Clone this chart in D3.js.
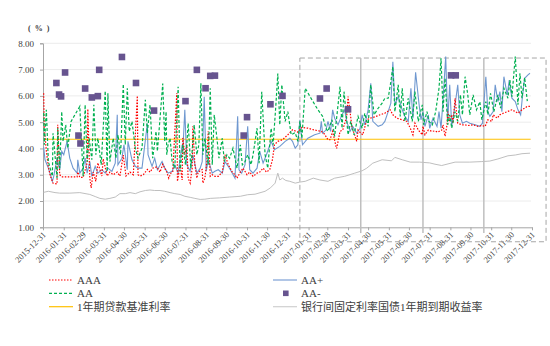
<!DOCTYPE html>
<html><head><meta charset="utf-8">
<script src="https://cdn.jsdelivr.net/npm/d3@7"></script>
<style>body{margin:0;background:#fff}svg{display:block}</style>
</head><body><svg id="c" width="550" height="346"></svg>
<script>
const tickLabels = ["2015-12-31","2016-01-31","2016-02-29","2016-03-31","2016-04-30","2016-05-31","2016-06-30","2016-07-31","2016-08-31","2016-09-30","2016-10-31","2016-11-30","2016-12-31","2017-01-31","2017-02-28","2017-03-31","2017-04-30","2017-05-31","2017-06-30","2017-07-31","2017-08-31","2017-09-30","2017-10-31","2017-11-30","2017-12-31"];
const yTicks = [1,2,3,4,5,6,7,8];
const seriesNames = ["AAA","AA+","AA","AA-","1年期贷款基准利率","银行间固定利率国债1年期到期收益率"];

const aaa = [["2016-01-01",6.1],["2016-01-02",4.77],["2016-01-05",3.9],["2016-01-08",3.3],["2016-01-11",2.95],["2016-01-15",2.68],["2016-01-21",2.65],["2016-01-22",4.9],["2016-01-25",3.0],["2016-01-28",2.92],["2016-02-20",2.92],["2016-02-21",3.1],["2016-02-24",2.9],["2016-02-29",2.9],["2016-03-06",3.45],["2016-03-07",5.5],["2016-03-10",2.87],["2016-03-12",2.5],["2016-03-15",3.1],["2016-03-19",2.75],["2016-03-22",3.45],["2016-03-28",2.95],["2016-03-30",3.6],["2016-04-05",2.95],["2016-04-09",3.1],["2016-04-14",3.0],["2016-04-20",3.1],["2016-04-24",2.95],["2016-04-29",3.75],["2016-05-03",2.95],["2016-05-09",3.1],["2016-05-14",3.0],["2016-05-20",6.0],["2016-05-21",3.0],["2016-05-24",2.95],["2016-05-29",3.0],["2016-06-04",3.2],["2016-06-08",3.1],["2016-06-12",3.25],["2016-06-18",3.3],["2016-06-23",3.1],["2016-06-27",3.4],["2016-06-30",3.25],["2016-07-03",3.1],["2016-07-06",2.87],["2016-07-09",3.06],["2016-07-12",3.1],["2016-07-18",6.1],["2016-07-19",2.75],["2016-07-23",3.38],["2016-07-26",2.8],["2016-07-27",4.4],["2016-07-30",3.76],["2016-08-02",4.14],["2016-08-04",2.87],["2016-08-07",2.68],["2016-08-10",3.25],["2016-08-11",4.84],["2016-08-14",3.38],["2016-08-17",2.87],["2016-08-19",3.1],["2016-08-25",3.2],["2016-08-26",2.68],["2016-08-29",2.87],["2016-09-01",3.5],["2016-09-03",4.65],["2016-09-06",2.94],["2016-09-09",3.0],["2016-09-13",2.94],["2016-09-18",2.94],["2016-09-24",3.1],["2016-09-28",3.76],["2016-10-03",3.38],["2016-10-09",3.1],["2016-10-13",3.0],["2016-10-16",2.87],["2016-10-21",3.1],["2016-10-25",3.25],["2016-10-31",3.0],["2016-11-04",3.1],["2016-11-09",2.94],["2016-11-15",3.06],["2016-11-19",3.1],["2016-11-24",3.25],["2016-11-29",3.1],["2016-12-04",3.2],["2016-12-08",3.57],["2016-12-11",4.14],["2016-12-16",4.27],["2016-12-23",4.33],["2016-12-31",4.52],["2017-01-07",4.71],["2017-01-15",4.62],["2017-01-21",4.8],["2017-01-30",4.77],["2017-02-09",4.7],["2017-02-19",4.65],["2017-02-24",4.54],["2017-03-01",4.33],["2017-03-04",4.33],["2017-03-08",4.65],["2017-03-13",4.08],["2017-03-14",4.0],["2017-03-19",4.65],["2017-03-23",4.7],["2017-03-29",5.2],["2017-03-31",5.97],["2017-04-03",5.4],["2017-04-06",4.77],["2017-04-09",4.58],["2017-04-13",4.27],["2017-04-15",4.7],["2017-04-19",4.58],["2017-04-22",4.52],["2017-04-28",5.09],["2017-05-03",5.15],["2017-05-10",5.2],["2017-05-18",5.28],["2017-05-25",5.34],["2017-06-02",5.47],["2017-06-06",5.28],["2017-06-12",5.15],["2017-06-20",5.09],["2017-06-27",5.03],["2017-07-02",4.77],["2017-07-06",4.52],["2017-07-09",4.96],["2017-07-14",4.7],["2017-07-20",4.52],["2017-07-21",4.84],["2017-07-24",4.52],["2017-07-29",4.7],["2017-08-04",4.65],["2017-08-08",4.67],["2017-08-12",4.62],["2017-08-18",4.7],["2017-08-20",4.9],["2017-08-23",4.46],["2017-08-26",4.9],["2017-08-27",5.4],["2017-08-30",5.03],["2017-09-02",5.28],["2017-09-04",4.96],["2017-09-07",5.91],["2017-09-10",5.15],["2017-09-11",4.96],["2017-09-17",4.9],["2017-09-22",4.9],["2017-09-26",4.87],["2017-10-04",4.9],["2017-10-11",4.84],["2017-10-17",4.87],["2017-10-22",4.84],["2017-10-26",5.09],["2017-11-01",5.03],["2017-11-03",5.28],["2017-11-09",5.15],["2017-11-13",5.28],["2017-11-18",5.34],["2017-11-24",5.4],["2017-12-01",5.47],["2017-12-06",5.4],["2017-12-10",5.34],["2017-12-16",5.47],["2017-12-24",5.6],["2017-12-28",5.6]];

const aaPlus = [["2016-01-01",4.05],["2016-01-03",3.57],["2016-01-08",3.25],["2016-01-14",2.75],["2016-01-16",2.94],["2016-01-21",3.63],["2016-01-22",3.5],["2016-01-25",3.19],["2016-01-28",3.89],["2016-01-31",3.76],["2016-02-05",4.27],["2016-02-09",3.63],["2016-02-14",3.25],["2016-02-20",3.06],["2016-02-21",3.57],["2016-02-24",3.06],["2016-02-29",3.25],["2016-03-03",3.63],["2016-03-06",3.06],["2016-03-10",3.5],["2016-03-13",2.94],["2016-03-18",3.32],["2016-03-22",3.06],["2016-03-28",3.19],["2016-04-02",3.06],["2016-04-06",3.25],["2016-04-12",3.13],["2016-04-17",3.44],["2016-04-20",5.28],["2016-04-21",3.38],["2016-04-27",3.63],["2016-04-30",4.14],["2016-05-05",3.19],["2016-05-06",4.27],["2016-05-12",3.57],["2016-05-17",3.32],["2016-05-21",3.25],["2016-05-27",3.25],["2016-06-04",4.95],["2016-06-05",3.76],["2016-06-11",3.32],["2016-06-15",3.63],["2016-06-19",3.19],["2016-06-26",3.5],["2016-06-30",3.25],["2016-07-05",3.06],["2016-07-11",3.13],["2016-07-15",3.38],["2016-07-20",3.06],["2016-07-26",4.14],["2016-07-27",3.89],["2016-07-30",5.47],["2016-08-02",3.38],["2016-08-07",3.13],["2016-08-11",3.76],["2016-08-17",3.06],["2016-08-22",3.25],["2016-08-25",3.5],["2016-08-28",5.97],["2016-08-31",3.13],["2016-09-03",3.57],["2016-09-09",3.06],["2016-09-13",3.13],["2016-09-18",3.19],["2016-09-24",3.06],["2016-09-28",3.5],["2016-10-03",3.32],["2016-10-09",3.06],["2016-10-13",2.87],["2016-10-17",5.22],["2016-10-19",3.19],["2016-10-23",3.06],["2016-10-28",3.38],["2016-11-01",4.84],["2016-11-04",3.19],["2016-11-09",3.06],["2016-11-15",3.25],["2016-11-19",3.89],["2016-11-24",3.44],["2016-11-29",3.76],["2016-12-06",4.27],["2016-12-11",3.95],["2016-12-19",4.08],["2016-12-27",4.27],["2017-01-03",4.39],["2017-01-07",4.27],["2017-01-11",4.01],["2017-01-15",4.14],["2017-01-18",5.09],["2017-01-21",4.33],["2017-01-22",4.14],["2017-01-30",4.39],["2017-02-09",4.52],["2017-02-17",4.58],["2017-02-19",5.03],["2017-02-21",4.58],["2017-02-26",4.7],["2017-03-01",5.03],["2017-03-05",4.65],["2017-03-08",5.47],["2017-03-11",5.15],["2017-03-16",4.9],["2017-03-22",5.28],["2017-03-26",5.47],["2017-03-29",5.03],["2017-04-03",4.65],["2017-04-07",4.84],["2017-04-13",4.58],["2017-04-18",4.77],["2017-04-21",5.28],["2017-04-25",4.9],["2017-04-30",5.47],["2017-05-04",6.48],["2017-05-07",5.03],["2017-05-15",4.84],["2017-05-21",4.9],["2017-05-25",5.03],["2017-05-30",5.4],["2017-06-03",5.72],["2017-06-06",7.3],["2017-06-09",5.66],["2017-06-14",5.97],["2017-06-20",5.47],["2017-06-24",5.22],["2017-06-29",5.03],["2017-07-03",6.29],["2017-07-06",5.15],["2017-07-10",6.9],["2017-07-15",5.72],["2017-07-18",5.09],["2017-07-21",5.4],["2017-07-24",4.84],["2017-07-29",5.28],["2017-07-31",4.77],["2017-08-05",5.15],["2017-08-11",4.84],["2017-08-14",5.4],["2017-08-17",4.77],["2017-08-20",5.85],["2017-08-24",7.5],["2017-08-27",5.03],["2017-08-30",6.42],["2017-09-02",4.84],["2017-09-07",5.66],["2017-09-11",6.42],["2017-09-14",5.28],["2017-09-18",4.96],["2017-09-24",5.03],["2017-09-29",4.96],["2017-10-07",4.9],["2017-10-14",4.84],["2017-10-18",4.96],["2017-10-23",6.73],["2017-10-26",5.4],["2017-10-29",5.22],["2017-11-03",5.4],["2017-11-06",6.42],["2017-11-10",5.78],["2017-11-13",6.16],["2017-11-16",5.4],["2017-11-19",6.73],["2017-11-24",6.04],["2017-11-27",6.6],["2017-12-01",5.91],["2017-12-06",5.78],["2017-12-10",5.47],["2017-12-14",5.28],["2017-12-17",6.04],["2017-12-20",6.67],["2017-12-25",6.8],["2017-12-28",6.86]];

const aa = [["2016-01-01",5.35],["2016-01-02",4.14],["2016-01-05",5.47],["2016-01-08",3.5],["2016-01-14",2.94],["2016-01-15",4.58],["2016-01-21",2.87],["2016-01-22",4.77],["2016-01-25",3.25],["2016-01-28",5.4],["2016-01-30",4.27],["2016-02-03",4.9],["2016-02-06",4.01],["2016-02-11",5.03],["2016-02-24",5.6],["2016-02-29",2.94],["2016-03-03",5.66],["2016-03-06",3.5],["2016-03-09",4.39],["2016-03-13",3.57],["2016-03-16",5.66],["2016-03-19",3.76],["2016-03-22",4.39],["2016-03-27",3.38],["2016-03-30",4.77],["2016-04-02",6.19],["2016-04-05",3.13],["2016-04-06",6.1],["2016-04-09",3.5],["2016-04-14",4.39],["2016-04-18",3.63],["2016-04-21",4.52],["2016-04-25",3.76],["2016-04-29",6.45],["2016-05-02",4.14],["2016-05-05",6.29],["2016-05-08",4.65],["2016-05-12",5.03],["2016-05-17",4.01],["2016-05-21",3.63],["2016-05-27",4.01],["2016-06-01",5.85],["2016-06-04",4.58],["2016-06-08",5.66],["2016-06-12",3.63],["2016-06-17",4.65],["2016-06-19",3.89],["2016-06-22",4.84],["2016-06-27",6.47],["2016-06-30",4.27],["2016-07-02",5.4],["2016-07-03",3.76],["2016-07-05",4.14],["2016-07-08",4.39],["2016-07-11",3.5],["2016-07-15",3.25],["2016-07-20",6.35],["2016-07-23",3.13],["2016-07-27",4.14],["2016-07-31",3.38],["2016-08-04",4.96],["2016-08-08",3.25],["2016-08-13",4.9],["2016-08-17",3.76],["2016-08-20",4.14],["2016-08-23",6.48],["2016-08-26",3.76],["2016-08-29",4.39],["2016-09-03",3.38],["2016-09-06",6.29],["2016-09-09",3.38],["2016-09-12",5.28],["2016-09-16",4.39],["2016-09-19",3.63],["2016-09-24",4.39],["2016-09-27",3.5],["2016-10-01",3.76],["2016-10-05",3.63],["2016-10-10",4.01],["2016-10-16",3.25],["2016-10-21",4.14],["2016-10-24",3.38],["2016-10-28",3.5],["2016-11-01",3.76],["2016-11-06",3.38],["2016-11-09",3.76],["2016-11-15",4.77],["2016-11-18",3.44],["2016-11-22",6.16],["2016-11-27",3.76],["2016-12-01",3.25],["2016-12-06",4.77],["2016-12-09",4.14],["2016-12-13",5.6],["2016-12-16",6.85],["2016-12-19",4.9],["2016-12-22",6.42],["2016-12-27",5.03],["2016-12-31",5.4],["2017-01-05",4.52],["2017-01-11",4.6],["2017-01-15",4.27],["2017-01-18",5.03],["2017-01-21",4.39],["2017-01-26",6.29],["2017-02-05",5.85],["2017-02-14",5.47],["2017-02-21",5.22],["2017-02-26",4.77],["2017-03-01",4.65],["2017-03-07",5.09],["2017-03-11",4.46],["2017-03-19",6.35],["2017-03-22",4.77],["2017-03-25",6.16],["2017-03-29",5.09],["2017-03-31",4.52],["2017-04-04",5.03],["2017-04-09",4.52],["2017-04-15",5.22],["2017-04-21",4.77],["2017-04-25",5.34],["2017-04-30",4.84],["2017-05-04",6.42],["2017-05-09",5.28],["2017-05-15",5.53],["2017-05-21",5.72],["2017-05-25",5.91],["2017-05-30",5.91],["2017-06-03",6.54],["2017-06-06",7.11],["2017-06-09",5.4],["2017-06-14",6.42],["2017-06-17",5.22],["2017-06-20",6.29],["2017-06-24",5.03],["2017-06-29",5.91],["2017-07-05",5.03],["2017-07-09",6.16],["2017-07-14",5.03],["2017-07-20",5.66],["2017-07-22",4.9],["2017-07-27",5.4],["2017-07-30",5.03],["2017-08-04",4.9],["2017-08-09",5.4],["2017-08-14",6.29],["2017-08-17",7.43],["2017-08-20",5.4],["2017-08-23",6.67],["2017-08-27",4.9],["2017-08-30",5.28],["2017-09-02",4.77],["2017-09-07",5.4],["2017-09-11",5.03],["2017-09-15",6.04],["2017-09-18",5.28],["2017-09-22",6.73],["2017-09-26",6.04],["2017-09-29",5.28],["2017-10-04",6.04],["2017-10-09",5.47],["2017-10-14",5.78],["2017-10-17",5.09],["2017-10-23",5.78],["2017-10-26",5.28],["2017-10-30",6.1],["2017-11-04",5.4],["2017-11-10",6.04],["2017-11-14",5.53],["2017-11-19",6.29],["2017-11-25",5.91],["2017-11-28",6.6],["2017-12-01",5.97],["2017-12-06",7.5],["2017-12-10",5.66],["2017-12-13",6.86],["2017-12-16",5.91],["2017-12-20",6.7],["2017-12-24",5.8]];

const aaMinus = [["2016-01-20",6.49],["2016-01-24",6.05],["2016-01-27",5.98],["2016-02-02",6.89],["2016-02-22",4.49],["2016-02-25",4.19],["2016-03-03",6.28],["2016-03-13",5.94],["2016-03-22",5.99],["2016-03-24",6.99],["2016-04-27",7.48],["2016-05-18",6.49],["2016-06-14",5.44],["2016-07-31",5.8],["2016-08-17",6.99],["2016-08-30",6.29],["2016-09-06",6.76],["2016-09-13",6.77],["2016-10-26",4.49],["2016-10-31",5.19],["2016-12-05",5.68],["2016-12-23",6.0],["2017-02-17",5.9],["2017-02-27",6.28],["2017-03-31",5.49],["2017-09-01",6.78],["2017-09-08",6.78]];

const loanRate = [["2016-01-01",4.35],["2017-12-29",4.35]];

const govYield = [["2016-01-01",2.33],["2016-01-08",2.37],["2016-01-18",2.32],["2016-01-25",2.3],["2016-02-09",2.3],["2016-02-24",2.32],["2016-03-10",2.25],["2016-03-18",2.17],["2016-03-25",2.1],["2016-04-02",2.07],["2016-04-09",2.1],["2016-04-17",2.15],["2016-04-24",2.28],["2016-05-02",2.28],["2016-05-09",2.32],["2016-05-17",2.28],["2016-05-24",2.35],["2016-06-01",2.4],["2016-06-08",2.42],["2016-06-15",2.4],["2016-06-23",2.4],["2016-06-30",2.37],["2016-07-08",2.32],["2016-07-15",2.28],["2016-07-23",2.25],["2016-07-30",2.18],["2016-08-07",2.14],["2016-08-14",2.1],["2016-08-22",2.06],["2016-08-29",2.07],["2016-09-06",2.1],["2016-09-20",2.12],["2016-10-05",2.15],["2016-10-21",2.18],["2016-11-01",2.24],["2016-11-12",2.26],["2016-11-27",2.37],["2016-12-05",2.5],["2016-12-12",2.68],["2016-12-16",3.06],["2016-12-19",2.8],["2016-12-23",2.87],["2016-12-28",2.78],["2017-01-03",2.75],["2017-01-11",2.68],["2017-01-18",2.72],["2017-01-26",2.75],["2017-02-07",2.87],["2017-02-17",2.8],["2017-03-01",2.75],["2017-03-11",2.87],["2017-03-26",2.94],["2017-04-10",3.06],["2017-04-21",3.15],["2017-04-28",3.25],["2017-05-07",3.44],["2017-05-21",3.57],["2017-06-04",3.53],["2017-06-09",3.66],["2017-06-20",3.57],["2017-07-02",3.48],["2017-07-16",3.48],["2017-07-31",3.45],["2017-08-08",3.4],["2017-08-18",3.35],["2017-09-07",3.48],["2017-09-29",3.48],["2017-10-17",3.5],["2017-10-29",3.52],["2017-11-10",3.6],["2017-11-25",3.72],["2017-12-06",3.75],["2017-12-16",3.8],["2017-12-28",3.82]];

const boxDates = ["2017-01-18","2018-01-21"];
const dividerDates = ["2017-04-19","2017-07-21","2017-10-20"];

const parse = d3.timeParse("%Y-%m-%d");
const svg = d3.select("#c");
const x = d3.scaleTime().domain([parse("2015-12-31"), parse("2017-12-31")]).range([43, 532]);
const y = d3.scaleLinear().domain([1, 8]).range([227.3, 43.3]);
const latin = "'Liberation Serif','Times New Roman',serif";
const cjk = "'Liberation Serif','Noto Sans CJK SC',serif";

// gridlines
svg.append("g").selectAll("line").data(yTicks.slice(1)).join("line")
  .attr("x1", 43).attr("x2", 531).attr("y1", d => y(d)).attr("y2", d => y(d))
  .attr("stroke", "#ececec").attr("stroke-width", 1);

// y axis
const yAxis = svg.append("g").attr("transform", "translate(43,0)")
  .call(d3.axisLeft(y).tickValues(yTicks).tickFormat(d3.format(".2f")).tickSize(3).tickPadding(6));
yAxis.select(".domain").attr("stroke", "#a6a6a6");
yAxis.selectAll(".tick line").attr("stroke", "#a6a6a6");
yAxis.selectAll("text").attr("font-family", latin).attr("font-size", 9).attr("fill", "#404040");

// x axis
const xAxis = svg.append("g").attr("transform", "translate(0,227.3)")
  .call(d3.axisBottom(x).tickValues(tickLabels.map(parse)).tickFormat(d3.timeFormat("%Y-%m-%d")).tickSize(3).tickSizeOuter(0));
xAxis.select(".domain").attr("stroke", "#a6a6a6");
xAxis.selectAll(".tick line").attr("stroke", "#a6a6a6");
xAxis.selectAll("text").attr("font-family", latin).attr("font-size", 8.5).attr("fill", "#404040")
  .attr("text-anchor", "end").attr("dy", 0).attr("y", 0)
  .attr("transform", "translate(3,8) rotate(-45)");

// y unit
svg.append("text").attr("x", 28).attr("y", 31).text("( % )")
  .attr("font-family", latin).attr("font-size", 8).attr("font-weight", "bold").attr("letter-spacing", 1).attr("fill", "#404040");

// highlight box + dividers
const bx0 = x(parse(boxDates[0])), bx1 = x(parse(boxDates[1]));
svg.append("rect").attr("x", bx0).attr("y", y(7.44)).attr("width", bx1 - bx0).attr("height", y(0.45) - y(7.44))
  .attr("fill", "none").attr("stroke", "#a6a6a6").attr("stroke-width", 1).attr("stroke-dasharray", "5,3");
svg.append("g").selectAll("line").data(dividerDates).join("line")
  .attr("x1", d => x(parse(d))).attr("x2", d => x(parse(d)))
  .attr("y1", y(7.44)).attr("y2", y(0.78))
  .attr("stroke", "#bfbfbf").attr("stroke-width", 1.5);

const line = d3.line().x(d => x(parse(d[0]))).y(d => y(d[1]));

svg.append("path").datum(govYield).attr("d", line).attr("fill", "none").attr("stroke", "#bfbfbf").attr("stroke-width", 1);
svg.append("path").datum(loanRate).attr("d", line).attr("fill", "none").attr("stroke", "#ffc000").attr("stroke-width", 1.2);
svg.append("path").datum(aaPlus).attr("d", line).attr("fill", "none").attr("stroke", "#6f98d0").attr("stroke-width", 1.1);
svg.append("path").datum(aaa).attr("d", line).attr("fill", "none").attr("stroke", "#ff0000").attr("stroke-width", 1.2).attr("stroke-dasharray", "1.5,1.5");
svg.append("path").datum(aa).attr("d", line).attr("fill", "none").attr("stroke", "#00b050").attr("stroke-width", 1.2).attr("stroke-dasharray", "3,2");

svg.append("g").selectAll("rect").data(aaMinus).join("rect")
  .attr("x", d => x(parse(d[0])) - 3.3).attr("y", d => y(d[1]) - 3.3)
  .attr("width", 6.6).attr("height", 6.6).attr("fill", "#67548f");

// legend
const legend = [
  {name: seriesNames[0], col: 0, row: 0, type: "line", color: "#ff0000", dash: "1.5,1.5"},
  {name: seriesNames[1], col: 1, row: 0, type: "line", color: "#a9c0e4", dash: null},
  {name: seriesNames[2], col: 0, row: 1, type: "line", color: "#00b050", dash: "3,2"},
  {name: seriesNames[3], col: 1, row: 1, type: "square", color: "#67548f"},
  {name: seriesNames[4], col: 0, row: 2, type: "line", color: "#ffc000", dash: null},
  {name: seriesNames[5], col: 1, row: 2, type: "line", color: "#d0d0d0", dash: null}
];
const colX = [49, 273], rowY = [280, 293.3, 306.7];
const lg = svg.append("g").selectAll("g").data(legend).join("g")
  .attr("transform", d => `translate(${colX[d.col]},${rowY[d.row]})`);
lg.filter(d => d.type === "line").append("line")
  .attr("x1", 0).attr("x2", 24).attr("y1", 0).attr("y2", 0)
  .attr("stroke", d => d.color).attr("stroke-width", d => d.col === 1 && d.row === 0 ? 1.8 : 1.2)
  .attr("stroke-dasharray", d => d.dash);
lg.filter(d => d.type === "square").append("rect")
  .attr("x", 10).attr("y", -2.8).attr("width", 5.6).attr("height", 5.6).attr("fill", d => d.color);
lg.append("text").attr("x", 28).attr("y", 0).attr("dy", "0.35em").text(d => d.name)
  .attr("font-family", cjk).attr("font-size", 11).attr("fill", "#404040");
</script></body></html>
